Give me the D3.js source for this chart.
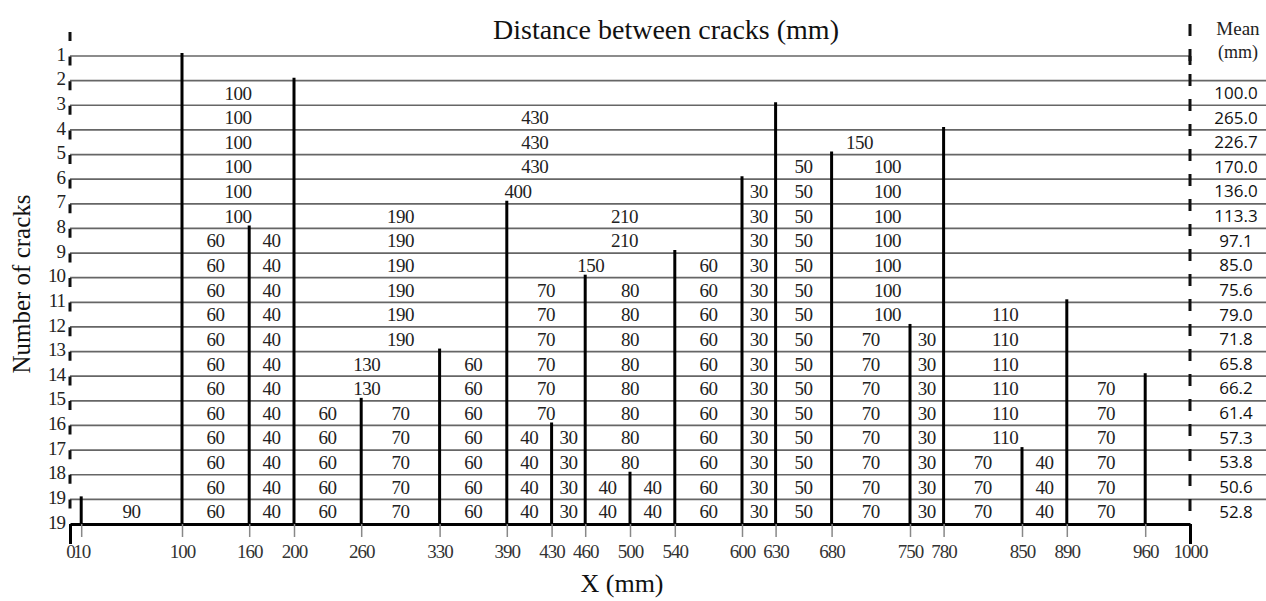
<!DOCTYPE html>
<html>
<head>
<meta charset="utf-8">
<script src="https://cdn.jsdelivr.net/npm/d3@7"></script>
<style>
  body { margin: 0; background: #fff; }
  svg { display: block; }
</style>
</head>
<body>
<svg></svg>
<script>
var width = 1266;
var height = 601;

// crack positions (mm) in the order they appeared: crack i shows up at row i+1
var cracks = [100, 200, 630, 780, 680, 600, 390, 160, 540, 460, 890, 750, 330, 960, 260, 430, 850, 500, 10];

// row labels, top to bottom (last one sits on the x axis)
var rowLabels = ["1","2","3","4","5","6","7","8","9","10","11","12","13","14","15","16","17","18","19","19"];

// mean spacing per band, bands 2..19
var means = ["100.0","265.0","226.7","170.0","136.0","113.3","97.1","85.0","75.6","79.0","71.8","65.8","66.2","61.4","57.3","53.8","50.6","52.8"];

var xTicks = [0, 10, 100, 160, 200, 260, 330, 390, 430, 460, 500, 540, 600, 630, 680, 750, 780, 850, 890, 960, 1000];

var serif = "'Liberation Serif', 'Times New Roman', serif";

var svg = d3.select("svg")
    .attr("width", width)
    .attr("height", height);

var x = d3.scaleLinear().domain([0, 1000]).range([70, 1190]);
// line index 1..20, 20 is the x axis
var y = d3.scaleLinear().domain([1, 20]).range([56, 524]);
var band = y(2) - y(1);

// horizontal row lines
svg.selectAll("line.row")
    .data(d3.range(1, 20))
    .enter().append("line")
    .attr("class", "row")
    .attr("x1", x(0))
    .attr("x2", function(d){ return d == 1 ? x(1000) : width; })
    .attr("y1", function(d){ return y(d); })
    .attr("y2", function(d){ return y(d); })
    .attr("stroke", "#666")
    .attr("stroke-width", 1.7);

// dashed side rules
svg.append("line")
    .attr("x1", x(0)).attr("x2", x(0))
    .attr("y1", 32).attr("y2", y(20))
    .attr("stroke", "#111").attr("stroke-width", 3)
    .attr("stroke-dasharray", "9,15.6");

svg.append("line")
    .attr("x1", x(1000)).attr("x2", x(1000))
    .attr("y1", 24).attr("y2", y(20))
    .attr("stroke", "#111").attr("stroke-width", 3)
    .attr("stroke-dasharray", "12,13");

// short drop at the right end of row 1
svg.append("line")
    .attr("x1", x(1000)).attr("x2", x(1000))
    .attr("y1", y(1)).attr("y2", y(1) + 9)
    .attr("stroke", "#111").attr("stroke-width", 3);

// x axis
var xaxis = d3.axisBottom(x)
    .tickValues(xTicks)
    .tickFormat(d3.format("d"))
    .tickSize(13)
    .tickSizeOuter(0)
    .tickPadding(8);

var gx = svg.append("g")
    .attr("transform", "translate(0," + y(20) + ")")
    .call(xaxis);

gx.select(".domain")
    .attr("stroke", "#000")
    .attr("stroke-width", 3);

gx.selectAll(".tick line")
    .attr("stroke", function(d){ return (d == 0 || d == 1000) ? "#000" : "#888"; })
    .attr("stroke-width", function(d){ return (d == 0 || d == 1000) ? 3 : 1.5; })
    .attr("y2", function(d){ return (d == 0 || d == 1000) ? 20 : 13; });

gx.selectAll(".tick text")
    .attr("font-family", serif)
    .attr("font-size", 19)
    .attr("fill", "#333")
    .attr("letter-spacing", "-1");

// cracks
svg.selectAll("line.crack")
    .data(cracks)
    .enter().append("line")
    .attr("class", "crack")
    .attr("x1", function(d){ return x(d); })
    .attr("x2", function(d){ return x(d); })
    .attr("y1", function(d, i){ return y(i + 1) - 3; })
    .attr("y2", y(20))
    .attr("stroke", "#000")
    .attr("stroke-width", 3);

// spacing labels in each band
var gaps = [];
for (var k = 2; k <= 19; k++) {
    var present = cracks.slice(0, k).slice().sort(function(a, b){ return a - b; });
    for (var j = 1; j < present.length; j++) {
        gaps.push({ band: k, a: present[j - 1], b: present[j] });
    }
}

svg.selectAll("text.gap")
    .data(gaps)
    .enter().append("text")
    .attr("class", "gap")
    .attr("x", function(d){ return x((d.a + d.b) / 2); })
    .attr("y", function(d){ return y(d.band) + band / 2; })
    .attr("dy", "0.35em")
    .attr("text-anchor", "middle")
    .attr("font-family", serif)
    .attr("font-size", 19)
    .attr("fill", "#222")
    .attr("letter-spacing", "-0.5")
    .text(function(d){ return d.b - d.a; });

// row labels
svg.selectAll("text.rowlab")
    .data(rowLabels)
    .enter().append("text")
    .attr("class", "rowlab")
    .attr("x", 65)
    .attr("y", function(d, i){ return y(i + 1) - 2; })
    .attr("dy", "0.35em")
    .attr("text-anchor", "end")
    .attr("font-family", serif)
    .attr("font-size", 19)
    .attr("fill", "#222")
    .attr("letter-spacing", "-1")
    .text(function(d){ return d; });

// mean column
svg.selectAll("text.mean")
    .data(means)
    .enter().append("text")
    .attr("class", "mean")
    .attr("x", 1236)
    .attr("y", function(d, i){ return y(i + 2) + band / 2; })
    .attr("dy", "0.35em")
    .attr("text-anchor", "middle")
    .attr("font-family", "'Open Sans', 'Liberation Sans', sans-serif")
    .attr("font-size", 17)
    .attr("fill", "#111")
    .text(function(d){ return d; });

svg.append("text")
    .attr("x", 1238).attr("y", 35)
    .attr("text-anchor", "middle")
    .attr("font-family", serif).attr("font-size", 19).attr("fill", "#222")
    .text("Mean");

svg.append("text")
    .attr("x", 1238).attr("y", 58)
    .attr("text-anchor", "middle")
    .attr("font-family", serif).attr("font-size", 18).attr("fill", "#222")
    .text("(mm)");

// titles
svg.append("text")
    .attr("x", 666).attr("y", 39)
    .attr("text-anchor", "middle")
    .attr("font-family", serif).attr("font-size", 28).attr("fill", "#111")
    .text("Distance between cracks (mm)");

svg.append("text")
    .attr("x", 622).attr("y", 592)
    .attr("text-anchor", "middle")
    .attr("font-family", serif).attr("font-size", 26).attr("fill", "#111")
    .text("X (mm)");

svg.append("text")
    .attr("transform", "translate(30,284) rotate(-90)")
    .attr("text-anchor", "middle")
    .attr("font-family", serif).attr("font-size", 25).attr("fill", "#111")
    .text("Number of cracks");
</script>
</body>
</html>
